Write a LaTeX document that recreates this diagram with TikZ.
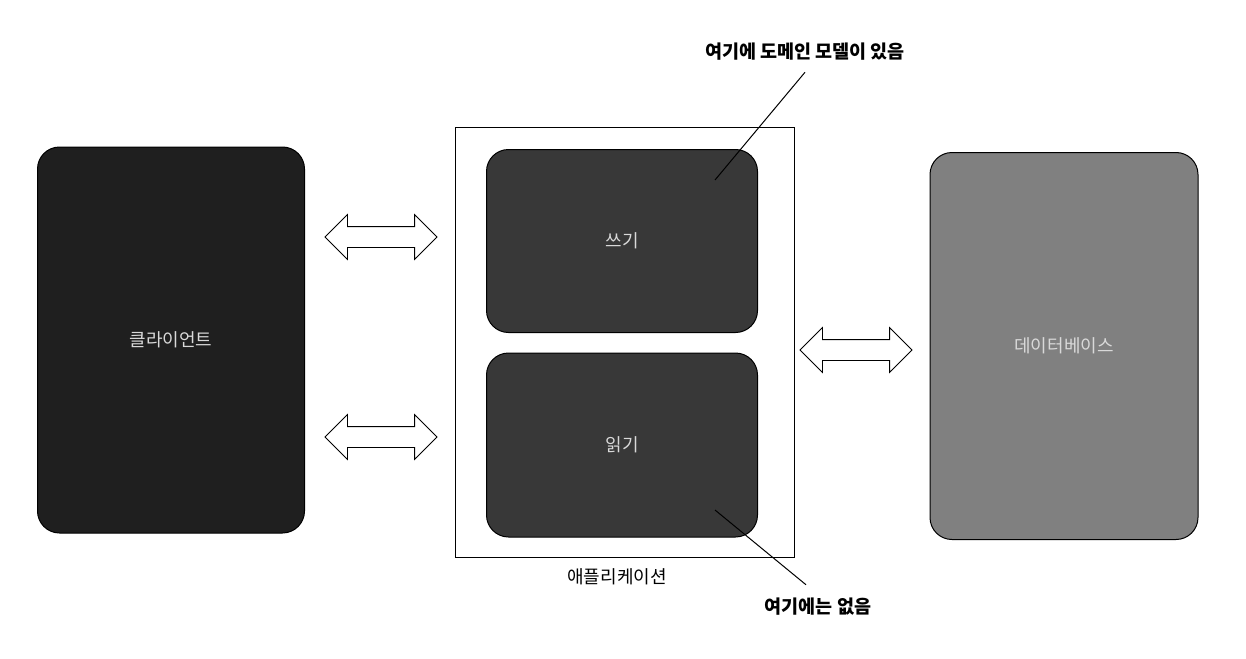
\documentclass[tikz,border=0pt]{standalone}
\usepackage{fontspec}
\newfontfamily\cjk{Noto Sans CJK KR}
\usetikzlibrary{shapes.arrows}
\begin{document}
\begin{tikzpicture}[x=1pt,y=-1pt,
  box/.style={draw=black,line width=1pt,rounded corners=22pt,text=white!85!black,font=\cjk\fontsize{18}{21}\selectfont},
  darr/.style={double arrow,draw=black,fill=white,line width=0.8pt,minimum height=112pt,double arrow head extend=12pt,inner sep=10pt,double arrow tip angle=90},
  lbl/.style={font=\cjk\bfseries\fontsize{18.5}{21}\selectfont}]
\useasboundingbox (0,0) rectangle (1246,658);
\node[box,fill=black!88,minimum width=267pt,minimum height=386pt] (client) at (171,340) {클라이언트};
\node[draw=black,line width=0.8pt,fill=white,minimum width=339pt,minimum height=430pt] (app) at (625,342) {};
\node[box,fill=black!78,minimum width=271pt,minimum height=183pt] (write) at (622,241) {쓰기};
\node[box,fill=black!78,minimum width=271pt,minimum height=184pt] (read) at (622,445) {읽기};
\node[box,fill=black!50,minimum width=268pt,minimum height=387pt] (db) at (1064,346) {데이터베이스};
\node[darr] (a1) at (381,237) {};
\node[darr] (a2) at (381,437) {};
\node[darr] (a3) at (856,350) {};
\node[font=\cjk\fontsize{18}{21}\selectfont] (applbl) at (617,577) {애플리케이션};
\node[lbl] (top) at (805,52) {여기에 도메인 모델이 있음};
\node[lbl] (bot) at (818,607) {여기에는 없음};
\coordinate (tp) at (715,180);
\coordinate (bp) at (715,510);
\draw[line width=1pt] (top.south) ++(0,8) -- (tp);
\draw[line width=1pt] (bot.north) ++(-12,-10) -- (bp);
\end{tikzpicture}
\end{document}
